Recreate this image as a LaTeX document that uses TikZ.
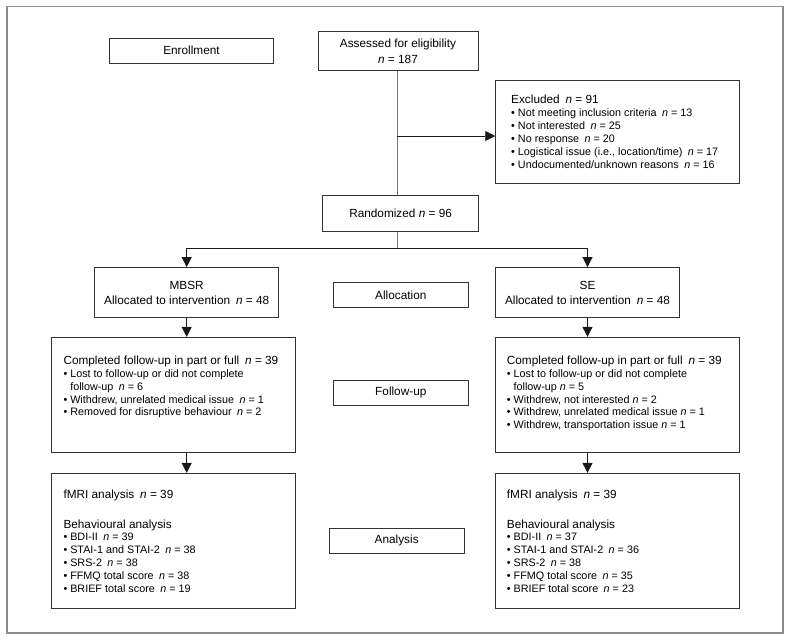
\documentclass[tikz,border=0pt]{standalone}
\usepackage{fontspec}
\setmainfont{Liberation Sans}
\usetikzlibrary{arrows.meta}
\newcommand{\nv}{\textit{n}}
\newcommand{\bul}{\textbullet\ }
\newcommand{\hdr}[1]{{\fontsize{11.8}{12.9}\selectfont #1}}
\begin{document}
\begin{tikzpicture}[x=1pt,y=-1pt,
  box/.style={draw=black!80, line width=0.9pt, inner sep=0pt, font=\fontsize{11.8}{15}\selectfont, align=center},
  txt/.style={inner sep=0pt, anchor=north west, align=left, font=\fontsize{10.8}{12.9}\selectfont},
  arr/.style={-{Triangle[length=10pt,width=10pt]}, line width=0.9pt, draw=black!90},
  ln/.style={line width=0.9pt, draw=black!55}]
\useasboundingbox (0,0) rectangle (791,641);
\draw[black!45, line width=1.2pt] (7,6.5) rectangle (783,633);

% boxes
\node[box, minimum width=164pt, minimum height=25pt] (enroll) at (191.5,50.5) {Enrollment};
\node[box, minimum width=160pt, minimum height=39pt, font=\fontsize{11.8}{16.3}\selectfont] (assess) at (398,51) {\raisebox{-1.2pt}{Assessed for eligibility}\\ \raisebox{-1.2pt}{\nv{} = 187}};
\node[box, minimum width=156pt, minimum height=36.7pt] (rand) at (400.6,213.3) {Randomized \nv{} = 96};
\node[box, minimum width=243.6pt, minimum height=103pt] (excl) at (617.5,131.5) {};
\node[box, minimum width=184pt, minimum height=50pt] (mbsr) at (186.7,292.5) {MBSR\\ Allocated to intervention\enspace\nv{} = 48};
\node[box, minimum width=184pt, minimum height=50pt] (se) at (587.5,292.5) {SE\\ Allocated to intervention\enspace\nv{} = 48};
\node[box, minimum width=135pt, minimum height=25pt] (alloc) at (400.8,294.8) {Allocation};
\node[box, minimum width=135pt, minimum height=25pt] (follow) at (400.8,392.5) {Follow-up};
\node[box, minimum width=134.7pt, minimum height=25pt] (analysis) at (396.7,540.8) {Analysis};
\node[box, minimum width=244pt, minimum height=115pt] (cm) at (173.7,394.8) {};
\node[box, minimum width=243.6pt, minimum height=115pt] (cs) at (617.5,394.8) {};
\node[box, minimum width=244pt, minimum height=135pt] (am) at (173.7,540.8) {};
\node[box, minimum width=243.6pt, minimum height=135pt] (as) at (617.5,540.8) {};

% texts
\node[txt] (excltxt) at (511,95.1) {\hdr{Excluded\enspace\nv{} = 91}\\
\bul Not meeting inclusion criteria\enspace\nv{} = 13\\
\bul Not interested\enspace\nv{} = 25\\
\bul No response\enspace\nv{} = 20\\
\bul Logistical issue (i.e., location/time)\enspace\nv{} = 17\\
\bul Undocumented/unknown reasons\enspace\nv{} = 16};

\node[txt] (cmtxt) at (63.3,355.6) {\hdr{Completed follow-up in part or full\enspace\nv{} = 39}\\
\bul Lost to follow-up or did not complete\\
\hphantom{\bul}follow-up\enspace\nv{} = 6\\
\bul Withdrew, unrelated medical issue\enspace\nv{} = 1\\
\bul Removed for disruptive behaviour\enspace\nv{} = 2};

\node[txt] (cstxt) at (506.7,355.6) {\hdr{Completed follow-up in part or full\enspace\nv{} = 39}\\
\bul Lost to follow-up or did not complete\\
\hphantom{\bul}follow-up \nv{} = 5\\
\bul Withdrew, not interested \nv{} = 2\\
\bul Withdrew, unrelated medical issue \nv{} = 1\\
\bul Withdrew, transportation issue \nv{} = 1};

\node[txt] (amtxt) at (63.3,489.9) {\hdr{fMRI analysis\enspace\nv{} = 39}\\[16.5pt]
\hdr{Behavioural analysis}\\
\bul BDI-II\enspace\nv{} = 39\\
\bul STAI-1 and STAI-2\enspace\nv{} = 38\\
\bul SRS-2\enspace\nv{} = 38\\
\bul FFMQ total score\enspace\nv{} = 38\\
\bul BRIEF total score\enspace\nv{} = 19};

\node[txt] (astxt) at (506.7,489.9) {\hdr{fMRI analysis\enspace\nv{} = 39}\\[16.5pt]
\hdr{Behavioural analysis}\\
\bul BDI-II\enspace\nv{} = 37\\
\bul STAI-1 and STAI-2\enspace\nv{} = 36\\
\bul SRS-2\enspace\nv{} = 38\\
\bul FFMQ total score\enspace\nv{} = 35\\
\bul BRIEF total score\enspace\nv{} = 23};

% connectors
\coordinate (trunk) at (397,0);
\coordinate (exbr) at (397,136);
\coordinate (split) at (397,248.3);
\draw[ln] (assess.south -| trunk) -- (rand.north -| trunk);
\draw[arr] (exbr) -- (exbr -| excl.west);
\draw[ln] (rand.south -| trunk) -- (split);
\draw[arr] (split) -| (mbsr.north);
\draw[arr] (split) -| (se.north);
\draw[arr] (mbsr.south) -- (mbsr.south |- cm.north);
\draw[arr] (se.south) -- (se.south |- cs.north);
\draw[arr] (mbsr.south |- cm.south) -- (mbsr.south |- am.north);
\draw[arr] (se.south |- cs.south) -- (se.south |- as.north);
\end{tikzpicture}
\end{document}
